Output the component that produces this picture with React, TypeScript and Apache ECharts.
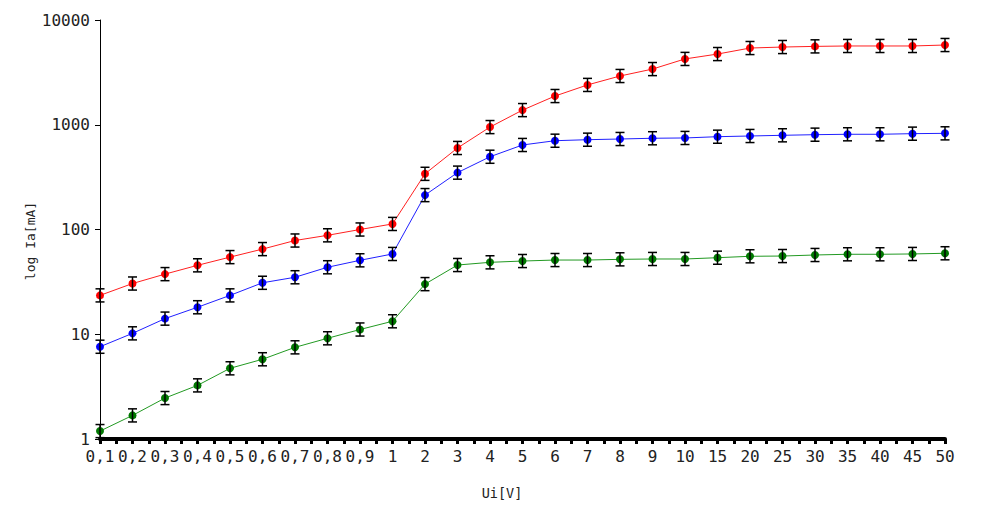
import React, { useEffect, useRef } from "react";
import * as echarts from "echarts";

const categories = [
  "0,1", "0,2", "0,3", "0,4", "0,5", "0,6", "0,7", "0,8", "0,9",
  "1", "2", "3", "4", "5", "6", "7", "8", "9",
  "10", "15", "20", "25", "30", "35", "40", "45", "50",
];

const redValues = [
  23.5, 30.5, 37.5, 45.5, 54.5, 65, 78.5, 88, 100,
  113, 340, 600, 950, 1380, 1880, 2400, 2920, 3400,
  4250, 4730, 5400, 5520, 5600, 5650, 5650, 5650, 5770,
];

const blueValues = [
  7.6, 10.2, 14.1, 18.1, 23.5, 31, 35, 43.6, 50.8,
  58.4, 213, 349, 495, 641, 704, 720, 731, 743,
  748, 769, 781, 793, 804, 811, 811, 822, 828,
];

const greenValues = [
  1.19, 1.68, 2.46, 3.25, 4.73, 5.77, 7.5, 9.15, 11.1,
  13.3, 30.1, 45.8, 48.6, 50, 51.1, 51.1, 51.9, 52.3,
  52.3, 53.8, 55.5, 55.8, 57.1, 58, 58, 58.4, 59.3,
];

const yTickLabels = ["1", "10", "100", "1000", "10000"];

// relative measurement uncertainty shown by the error bars
const RELATIVE_ERROR = 0.155;

const FONT = "'DejaVu Sans Mono', 'Liberation Mono', monospace";

function errorData(values: number[]) {
  return values.map((v, i) => [i, v / (1 + RELATIVE_ERROR), v * (1 + RELATIVE_ERROR)]);
}

function renderErrorBar(params: any, api: any) {
  const idx = api.value(0);
  const lo = api.coord([idx, api.value(1)]);
  const hi = api.coord([idx, api.value(2)]);
  const hw = 4.5;
  const style = { stroke: "#000", lineWidth: 1.5 };
  return {
    type: "group",
    children: [
      { type: "line", shape: { x1: lo[0], y1: lo[1], x2: hi[0], y2: hi[1] }, style },
      { type: "line", shape: { x1: lo[0] - hw, y1: lo[1], x2: lo[0] + hw, y2: lo[1] }, style },
      { type: "line", shape: { x1: hi[0] - hw, y1: hi[1], x2: hi[0] + hw, y2: hi[1] }, style },
    ],
  };
}

function lineSeries(name: string, values: number[], marker: string, line: string) {
  return {
    name,
    type: "line",
    data: values,
    symbol: "circle",
    symbolSize: 8,
    z: 2,
    itemStyle: { color: marker },
    lineStyle: { color: line, width: 1 },
  };
}

function errSeries(values: number[]) {
  return {
    type: "custom",
    data: errorData(values),
    renderItem: renderErrorBar,
    z: 3,
    encode: { x: 0, y: [1, 2] },
  };
}

export default function App() {
  const ref = useRef<HTMLDivElement>(null);

  useEffect(() => {
    if (!ref.current) return;
    const chart = echarts.init(ref.current, undefined, { renderer: "svg" });
    chart.setOption({
      animation: false,
      backgroundColor: "#ffffff",
      grid: { left: 100, right: 50, top: 20, bottom: 84, containLabel: false },
      xAxis: [
        {
          type: "category",
          data: categories,
          boundaryGap: false,
          axisLine: { show: true, lineStyle: { color: "#000", width: 4 } },
          axisTick: { show: false },
          axisLabel: {
            color: "#222",
            fontFamily: FONT,
            fontSize: 16,
            margin: 9,
            interval: 0,
          },
          splitLine: { show: false },
        },
        {
          type: "value",
          min: 0,
          max: categories.length - 1,
          interval: 1,
          position: "bottom",
          axisLine: { show: false },
          axisLabel: { show: false },
          splitLine: { show: false },
          axisTick: { show: true, length: 5, lineStyle: { color: "#000", width: 3 } },
          minorTick: { show: true, splitNumber: 2, length: 5, lineStyle: { color: "#000", width: 3 } },
        },
      ],
      yAxis: {
        type: "log",
        logBase: 10,
        min: 1,
        max: 10000,
        axisLine: { show: true, lineStyle: { color: "#000", width: 1 } },
        axisTick: { show: true, length: 5, lineStyle: { color: "#000", width: 1 } },
        axisLabel: {
          color: "#222",
          fontFamily: FONT,
          fontSize: 16,
          margin: 10,
          formatter: (v: number) => {
            const i = Math.round(Math.log10(v));
            return yTickLabels[i] ?? String(v);
          },
        },
        splitLine: { show: false },
      },
      graphic: [
        {
          type: "text",
          x: 30,
          y: 241,
          rotation: Math.PI / 2,
          style: {
            text: "log Ia[mA]",
            fill: "#222",
            font: `13px ${FONT}`,
            align: "center",
            verticalAlign: "middle",
          },
        },
        {
          type: "text",
          x: 502,
          y: 493,
          style: {
            text: "Ui[V]",
            fill: "#222",
            font: `13.5px ${FONT}`,
            align: "center",
            verticalAlign: "middle",
          },
        },
      ],
      series: [
        lineSeries("red", redValues, "#ff0000", "#ff2020"),
        lineSeries("blue", blueValues, "#0000ff", "#2020ff"),
        lineSeries("green", greenValues, "#007800", "#229922"),
        errSeries(redValues),
        errSeries(blueValues),
        errSeries(greenValues),
      ],
    });
    return () => chart.dispose();
  }, []);

  return (
    <div
      ref={ref}
      style={{ position: "fixed", left: 0, top: 0, width: 995, height: 523, background: "#fff" }}
    />
  );
}
